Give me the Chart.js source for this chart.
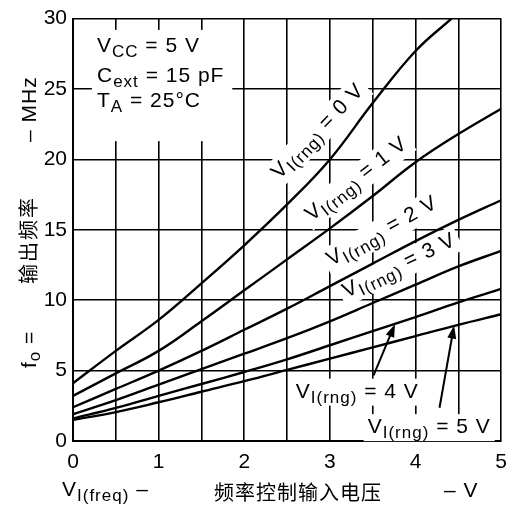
<!DOCTYPE html>
<html>
<head>
<meta charset="utf-8">
<script src="https://cdn.jsdelivr.net/npm/chart.js@4.4.0/dist/chart.umd.min.js"></script>
<style>
  html, body { margin: 0; padding: 0; background: #fff; }
  #wrap { width: 516px; height: 512px; }
</style>
</head>
<body>
<div id="wrap"><canvas id="grafico" width="516" height="512"></canvas></div>
<script>
// V_I(freq) in volts
const vFreq = [0, 0.5, 1, 1.5, 2, 2.5, 3, 3.5, 4, 4.5, 5];
const vFreq0V = [0, 0.5, 1, 1.5, 2, 2.5, 3, 3.5, 4, 4.42]; // 0 V curve leaves the top at ~4.4 V

// f_o in MHz for each V_I(rng)
const fo0V = [4.1, 6.4, 8.6, 11.2, 13.9, 16.8, 20.0, 24.0, 27.7, 30.0];
const fo1V = [3.2, 4.8, 6.4, 8.5, 10.7, 12.9, 15.1, 17.4, 19.8, 21.8, 23.6];
const fo2V = [2.4, 3.7, 5.0, 6.4, 7.9, 9.4, 11.0, 12.6, 14.2, 15.7, 17.1];
const fo3V = [1.9, 2.9, 4.0, 5.1, 6.2, 7.3, 8.5, 9.8, 11.1, 12.4, 13.5];
const fo4V = [1.6, 2.35, 3.2, 4.05, 4.9, 5.8, 6.8, 7.8, 8.8, 9.85, 10.8];
const fo5V = [1.5, 2.05, 2.75, 3.5, 4.25, 5.05, 5.85, 6.65, 7.45, 8.25, 9.0];

const xTickLabels = [0, 1, 2, 3, 4, 5];
const yTickLabels = [0, 5, 10, 15, 20, 25, 30];

const curves = [
    { name: '0 V', x: vFreq0V, y: fo0V },
    { name: '1 V', x: vFreq, y: fo1V },
    { name: '2 V', x: vFreq, y: fo2V },
    { name: '3 V', x: vFreq, y: fo3V },
    { name: '4 V', x: vFreq, y: fo4V },
    { name: '5 V', x: vFreq, y: fo5V }
];

const FONT = '"Liberation Sans", Arial, sans-serif';
const CJK = '"Noto Sans CJK SC", sans-serif';

// rotated labels along the curves: centre in data units, angle in degrees
const curveLabels = [
    { text: '0 V', x: 2.86, y: 22.0, angle: -46 },
    { text: '1 V', x: 3.31, y: 18.6, angle: -38 },
    { text: '2 V', x: 3.61, y: 14.9, angle: -29 },
    { text: '3 V', x: 3.81, y: 12.45, angle: -26 }
];
// horizontal labels with arrows (baseline centre, arrow tail -> tip)
const arrowLabels = [
    { text: '4 V', x: 3.32, y: 3.08, from: [3.51, 4.66], to: [3.76, 8.3] },
    { text: '5 V', x: 4.16, y: 0.56, from: [4.28, 2.36], to: [4.45, 8.2] }
];

function setFont(ctx, size, family) {
    ctx.font = size + 'px ' + (family || FONT);
}

function partsWidth(ctx, parts, size, subSize) {
    let w = 0;
    parts.forEach(p => {
        setFont(ctx, p[1] ? subSize : size);
        w += ctx.measureText(p[0]).width;
    });
    return w;
}

// parts: [[text, isSubscript]], x = left, y = baseline
function drawParts(ctx, parts, x, y, size, subSize, subDrop) {
    ctx.textAlign = 'left';
    ctx.textBaseline = 'alphabetic';
    parts.forEach(p => {
        setFont(ctx, p[1] ? subSize : size);
        ctx.fillText(p[0], x, p[1] ? y + subDrop : y);
        x += ctx.measureText(p[0]).width;
    });
}

function rngParts(v) {
    return [['V', 0], ['I(rng)', 1], [' = ' + v, 0]];
}

function arrow(ctx, x1, y1, x2, y2) {
    const a = Math.atan2(y2 - y1, x2 - x1);
    const len = 13, hw = 4.5;
    ctx.beginPath();
    ctx.moveTo(x1, y1);
    ctx.lineTo(x2 - Math.cos(a) * len * 0.8, y2 - Math.sin(a) * len * 0.8);
    ctx.stroke();
    ctx.beginPath();
    ctx.moveTo(x2, y2);
    ctx.lineTo(x2 - Math.cos(a) * len - Math.sin(a) * hw, y2 - Math.sin(a) * len + Math.cos(a) * hw);
    ctx.lineTo(x2 - Math.cos(a) * len + Math.sin(a) * hw, y2 - Math.sin(a) * len - Math.cos(a) * hw);
    ctx.closePath();
    ctx.fill();
}

const anotacoes = {
    id: 'anotacoes',
    beforeDatasetsDraw(chart) {
        const ctx = chart.ctx;
        const sx = chart.scales.x, sy = chart.scales.y;
        ctx.save();
        ctx.fillStyle = '#fff';
        ctx.letterSpacing = '1px';
        // conditions box
        const bx = sx.getPixelForValue(0.22), by = sy.getPixelForValue(29.2);
        ctx.fillRect(bx, by, sx.getPixelForValue(1.86) - bx, sy.getPixelForValue(21.3) - by);
        // rotated label backgrounds
        curveLabels.forEach(l => {
            const w = partsWidth(ctx, rngParts(l.text), 21, 17);
            ctx.save();
            ctx.translate(sx.getPixelForValue(l.x), sy.getPixelForValue(l.y));
            ctx.rotate(l.angle * Math.PI / 180);
            ctx.fillRect(-w / 2 - 4, -13, w + 8, 27);
            ctx.restore();
        });
        arrowLabels.forEach(l => {
            const w = partsWidth(ctx, rngParts(l.text), 21, 17);
            const px = sx.getPixelForValue(l.x), py = sy.getPixelForValue(l.y);
            ctx.fillRect(px - w / 2 - 4, py - 19, w + 8, 27);
        });
        ctx.restore();
    },
    afterDatasetsDraw(chart) {
        const ctx = chart.ctx;
        const sx = chart.scales.x, sy = chart.scales.y;
        ctx.save();
        ctx.fillStyle = '#000';
        ctx.strokeStyle = '#000';
        ctx.letterSpacing = '1px';

        const tx = sx.getPixelForValue(0.28);
        drawParts(ctx, [['V', 0], ['CC', 1], [' = 5 V', 0]], tx, sy.getPixelForValue(27.6), 21, 17, 5);
        drawParts(ctx, [['C', 0], ['ext', 1], [' = 15 pF', 0]], tx, sy.getPixelForValue(25.5), 21, 17, 5);
        drawParts(ctx, [['T', 0], ['A', 1], [' = 25°C', 0]], tx, sy.getPixelForValue(23.7), 21, 17, 5);

        curveLabels.forEach(l => {
            const parts = rngParts(l.text);
            const w = partsWidth(ctx, parts, 21, 17);
            ctx.save();
            ctx.translate(sx.getPixelForValue(l.x), sy.getPixelForValue(l.y));
            ctx.rotate(l.angle * Math.PI / 180);
            drawParts(ctx, parts, -w / 2, 6, 21, 17, 5);
            ctx.restore();
        });

        ctx.lineWidth = 2;
        arrowLabels.forEach(l => {
            const parts = rngParts(l.text);
            const w = partsWidth(ctx, parts, 21, 17);
            drawParts(ctx, parts, sx.getPixelForValue(l.x) - w / 2, sy.getPixelForValue(l.y), 21, 17, 5);
            arrow(ctx, sx.getPixelForValue(l.from[0]), sy.getPixelForValue(l.from[1]),
                sx.getPixelForValue(l.to[0]), sy.getPixelForValue(l.to[1]));
        });
        ctx.restore();
    },
    afterDraw(chart) {
        const ctx = chart.ctx;
        ctx.save();
        ctx.fillStyle = '#000';
        ctx.letterSpacing = '1px';
        // x axis title
        drawParts(ctx, [['V', 0], ['I(freq)', 1], [' –', 0]], 62, 496, 21, 17, 5);
        setFont(ctx, 20, CJK);
        ctx.textAlign = 'left';
        ctx.fillText('频率控制输入电压', 214, 500);
        setFont(ctx, 21);
        ctx.fillText('– V', 444, 497);
        // y axis title, rotated
        ctx.translate(36, 0);
        ctx.rotate(-Math.PI / 2);
        drawParts(ctx, [['f', 0], ['o', 1], [' =', 0]], -368, 0, 21, 17, 4);
        setFont(ctx, 20, CJK);
        ctx.textAlign = 'left';
        ctx.letterSpacing = '2px';
        ctx.fillText('输出频率', -284, 0);
        ctx.letterSpacing = '1px';
        setFont(ctx, 21);
        ctx.fillText('– MHz', -142, 0);
        ctx.restore();
    }
};

const ctxGrafico = document.getElementById('grafico').getContext('2d');
const grafico = new Chart(ctxGrafico, {
    type: 'line',
    data: {
        datasets: curves.map(c => ({
            label: c.name,
            data: c.x.map((v, i) => ({ x: v, y: c.y[i] })),
            borderColor: '#000',
            borderWidth: 2.4,
            pointRadius: 0,
            fill: false,
            tension: 0.4
        }))
    },
    options: {
        responsive: false,
        animation: false,
        devicePixelRatio: 1,
        layout: { padding: { left: 0, top: 13, right: 14, bottom: 0 } },
        plugins: {
            legend: { display: false },
            title: { display: false },
            tooltip: { enabled: false }
        },
        scales: {
            x: {
                type: 'linear',
                min: 0,
                max: 5,
                afterFit(s) { s.height = 71; },
                ticks: {
                    stepSize: 0.5,
                    padding: 9,
                    color: '#000',
                    font: { family: FONT, size: 21 },
                    maxRotation: 0,
                    autoSkip: false,
                    callback: v => xTickLabels.includes(v) ? String(v) : ''
                },
                grid: { color: '#000', lineWidth: 1.6, drawTicks: false },
                border: { display: true, color: '#000', width: 2 }
            },
            y: {
                min: 0,
                max: 30,
                afterFit(s) { s.width = 73; },
                ticks: {
                    stepSize: 5,
                    padding: 6,
                    color: '#000',
                    font: { family: FONT, size: 21 },
                    callback: v => yTickLabels.includes(v) ? String(v) : ''
                },
                grid: { color: '#000', lineWidth: 1.6, drawTicks: false },
                border: { display: true, color: '#000', width: 2 }
            }
        }
    },
    plugins: [anotacoes]
});
</script>
</body>
</html>
